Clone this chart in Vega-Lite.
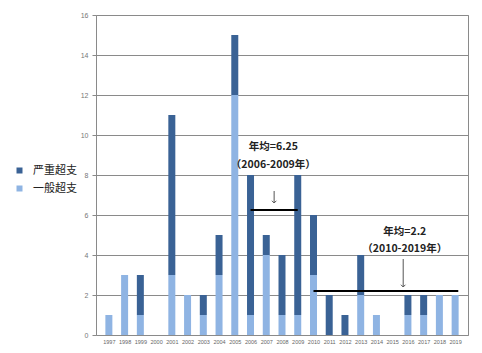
{
  "$schema": "https://vega.github.io/schema/vega-lite/v6.json",
  "width": 372,
  "height": 320,
  "autosize": {"type": "none"},
  "padding": {"left": 96, "top": 15, "right": 14, "bottom": 18},
  "background": "white",
  "config": {
    "view": {"stroke": "#8a8a8a", "strokeWidth": 1},
    "font": "Noto Sans CJK SC"
  },
  "datasets": {
    "bars": [
      {"year": 1997, "type": "一般超支", "count": 1},
      {"year": 1998, "type": "一般超支", "count": 3},
      {"year": 1999, "type": "一般超支", "count": 1},
      {"year": 1999, "type": "严重超支", "count": 2},
      {"year": 2001, "type": "一般超支", "count": 3},
      {"year": 2001, "type": "严重超支", "count": 8},
      {"year": 2002, "type": "一般超支", "count": 2},
      {"year": 2003, "type": "一般超支", "count": 1},
      {"year": 2003, "type": "严重超支", "count": 1},
      {"year": 2004, "type": "一般超支", "count": 3},
      {"year": 2004, "type": "严重超支", "count": 2},
      {"year": 2005, "type": "一般超支", "count": 12},
      {"year": 2005, "type": "严重超支", "count": 3},
      {"year": 2006, "type": "一般超支", "count": 1},
      {"year": 2006, "type": "严重超支", "count": 7},
      {"year": 2007, "type": "一般超支", "count": 4},
      {"year": 2007, "type": "严重超支", "count": 1},
      {"year": 2008, "type": "一般超支", "count": 1},
      {"year": 2008, "type": "严重超支", "count": 3},
      {"year": 2009, "type": "一般超支", "count": 1},
      {"year": 2009, "type": "严重超支", "count": 7},
      {"year": 2010, "type": "一般超支", "count": 3},
      {"year": 2010, "type": "严重超支", "count": 3},
      {"year": 2011, "type": "严重超支", "count": 2},
      {"year": 2012, "type": "严重超支", "count": 1},
      {"year": 2013, "type": "一般超支", "count": 2},
      {"year": 2013, "type": "严重超支", "count": 2},
      {"year": 2014, "type": "一般超支", "count": 1},
      {"year": 2016, "type": "一般超支", "count": 1},
      {"year": 2016, "type": "严重超支", "count": 1},
      {"year": 2017, "type": "一般超支", "count": 1},
      {"year": 2017, "type": "严重超支", "count": 1},
      {"year": 2018, "type": "一般超支", "count": 2},
      {"year": 2019, "type": "一般超支", "count": 2}
    ],
    "avgs": [
      {"from": 2006, "to": 2009, "avg": 6.25},
      {"from": 2010, "to": 2019.2, "avg": 2.2}
    ],
    "arrows": [
      {"x": 2007.5, "top": 7.2, "tip": 6.6},
      {"x": 2015.7, "top": 3.8, "tip": 2.4}
    ],
    "labels": [
      {"x": 2007.45, "y": 9.4, "label": "年均=6.25"},
      {"x": 2007.45, "y": 8.5, "label": "（2006-2009年）"},
      {"x": 2015.8, "y": 5.15, "label": "年均=2.2"},
      {"x": 2015.8, "y": 4.3, "label": "（2010-2019年）"}
    ]
  },
  "layer": [
    {
      "data": {"name": "bars"},
      "mark": {"type": "bar", "size": 7},
      "encoding": {
        "x": {
          "field": "year", "type": "quantitative",
          "scale": {"domain": [1996.5, 2019.5], "nice": false, "zero": false},
          "axis": {
            "values": [1997,1998,1999,2000,2001,2002,2003,2004,2005,2006,2007,2008,2009,2010,2011,2012,2013,2014,2015,2016,2017,2018,2019],
            "tickCount": 30,
            "format": "d", "title": null, "grid": false, "ticks": false, "domain": false,
            "labelFontSize": 5.5, "labelColor": "#666", "labelPadding": 4, "labelFont": "Liberation Sans",
            "labelOverlap": false
          }
        },
        "y": {
          "field": "count", "type": "quantitative", "stack": "zero",
          "scale": {"domain": [0, 16], "nice": false},
          "axis": {
            "values": [0,2,4,6,8,10,12,14,16], "tickCount": 20, "title": null,
            "grid": true, "gridColor": "#8a8a8a", "gridWidth": 1, "gridOpacity": 1,
            "domain": false, "tickColor": "#8a8a8a", "tickSize": 4, "labelOverlap": false,
            "labelFontSize": 7, "labelColor": "#777", "labelPadding": 4, "labelFont": "Liberation Sans"
          }
        },
        "color": {
          "field": "type", "type": "nominal",
          "scale": {"domain": ["严重超支", "一般超支"], "range": ["#3a6295", "#8fb4e3"]},
          "legend": {
            "title": null, "orient": "none", "legendX": -82, "legendY": 150,
            "symbolType": "square", "symbolSize": 36, "labelFontSize": 11, "labelColor": "#222",
            "rowPadding": 6, "labelOffset": 8
          }
        },
        "order": {"field": "type", "sort": "ascending"}
      }
    },
    {
      "data": {"name": "avgs"},
      "mark": {"type": "rule", "color": "black", "strokeWidth": 2},
      "encoding": {
        "x": {"field": "from", "type": "quantitative"},
        "x2": {"field": "to"},
        "y": {"field": "avg", "type": "quantitative"}
      }
    },
    {
      "data": {"name": "arrows"},
      "mark": {"type": "rule", "color": "#555", "strokeWidth": 1},
      "encoding": {
        "x": {"field": "x", "type": "quantitative"},
        "y": {"field": "top", "type": "quantitative"},
        "y2": {"field": "tip"}
      }
    },
    {
      "data": {"name": "arrows"},
      "mark": {"type": "point", "shape": "M-1,-1L0,0L1,-1", "filled": false, "color": "#555", "strokeWidth": 1, "size": 20, "opacity": 1},
      "encoding": {
        "x": {"field": "x", "type": "quantitative"},
        "y": {"field": "tip", "type": "quantitative"}
      }
    },
    {
      "data": {"name": "labels"},
      "mark": {"type": "text", "fontSize": 10.5, "fontWeight": "bold", "color": "#222", "align": "center", "baseline": "middle"},
      "encoding": {
        "x": {"field": "x", "type": "quantitative"},
        "y": {"field": "y", "type": "quantitative"},
        "text": {"field": "label"}
      }
    }
  ]
}
